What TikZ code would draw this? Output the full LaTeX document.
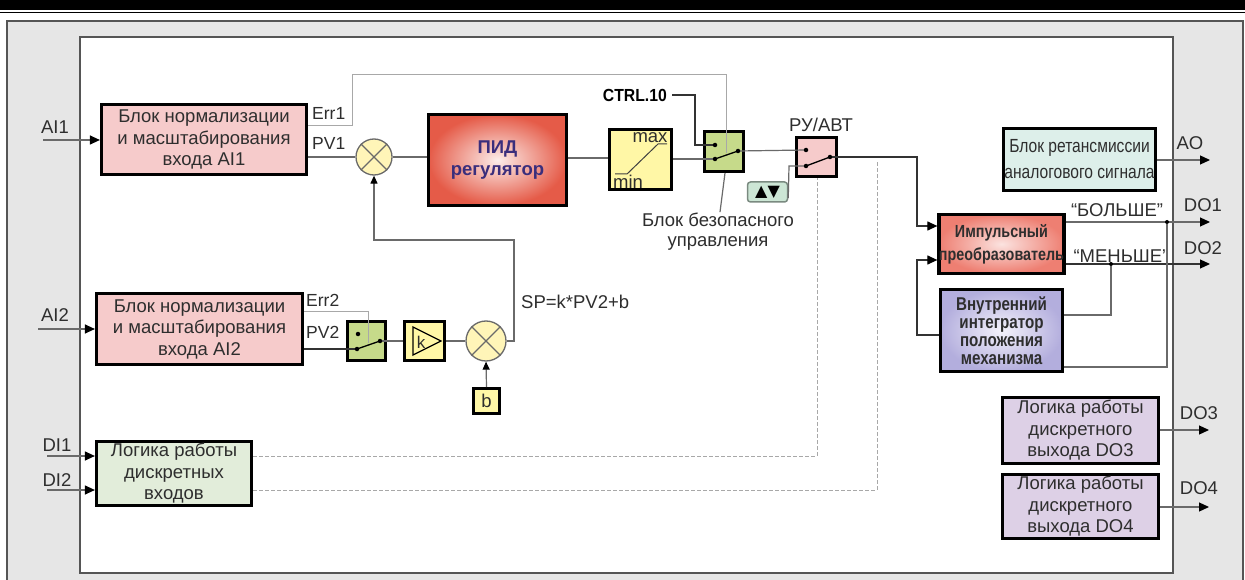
\documentclass[tikz,border=0pt]{standalone}
\usepackage{fontspec}
\setmainfont{Liberation Sans}
\newfontfamily\narrowf[FakeStretch=0.82]{Liberation Sans}
\newfontfamily\semif[FakeStretch=0.9]{Liberation Sans}
\newfontfamily\symf{DejaVu Sans}
\usetikzlibrary{arrows.meta,calc}
\definecolor{pinkb}{HTML}{F6CBCB}
\definecolor{greensw}{HTML}{C6DA8A}
\definecolor{yel}{HTML}{FFF7A6}
\definecolor{sumfill}{HTML}{FFF5B8}
\definecolor{cyanb}{HTML}{DDEFEA}
\definecolor{dig}{HTML}{E2EDDA}
\definecolor{lav}{HTML}{DDD0E6}
\definecolor{integout}{HTML}{B3AEDD}
\definecolor{integin}{HTML}{F4F2FB}
\definecolor{impout}{HTML}{EE7F72}
\definecolor{impin}{HTML}{FBE3E0}
\definecolor{pidout}{HTML}{E55B48}
\definecolor{pidin}{HTML}{FCEDEA}
\definecolor{btnfill}{HTML}{CCE6D5}
\definecolor{btnline}{HTML}{7A8A80}
\definecolor{pidtxt}{HTML}{3A2E7C}
\definecolor{txt}{HTML}{2E2E2E}
\definecolor{cgray}{HTML}{6A6A6A}
\definecolor{egray}{HTML}{A8A8A8}
\definecolor{panel}{HTML}{E6E6E6}
\definecolor{frame}{HTML}{555555}
\newcommand\mainfs{\fontsize{18.5}{21.5}\selectfont}
\newcommand\lblfs{\fontsize{18.5}{20}\selectfont}
\tikzset{
  blk/.style={draw=black, line width=3.2pt, inner sep=0pt, align=center, font=\mainfs, text=txt},
  smallblk/.style={draw=black, line width=3pt, inner sep=0pt},
  conn/.style={draw=cgray, line width=1.2pt},
  errl/.style={draw=egray, line width=1pt},
  arr/.style={-{Triangle[length=10pt,width=9pt,color=black]}},
  sarr/.style={-{Triangle[length=8pt,width=7pt,color=black]}},
  dsh/.style={draw=egray, line width=1pt, dash pattern=on 4pt off 2pt},
  dotc/.style={circle, fill=black, inner sep=0pt, minimum size=4.5pt},
  lbl/.style={font=\lblfs, text=txt, inner sep=0pt},
  sumc/.style={circle, draw=cgray, fill=sumfill, line width=1.3pt, minimum size=36pt, inner sep=0pt},
}
\begin{document}
\begin{tikzpicture}[x=1pt,y=-1pt]
\useasboundingbox (0,0) rectangle (1245,580);
% header rules
\fill[black] (0,0) rectangle (1245,10);
\draw[line width=1.3pt] (0,12.3) -- (1245,12.3);
% panels
\draw[fill=panel, draw=frame, line width=1.5pt] (7,21) rectangle (1243,586);
\draw[fill=white, draw=frame, line width=1.5pt] (80,37) rectangle (1173,573);

% ---------- blocks ----------
\node[blk, fill=pinkb, minimum width=205, minimum height=70] (ai1) at (204,139.5)
  {Блок нормализации\\и масштабирования\\входа AI1};
\node[blk, fill=pinkb, minimum width=206, minimum height=71] (ai2) at (199.5,329)
  {Блок нормализации\\и масштабирования\\входа AI2};
\node[blk, fill=dig, minimum width=155, minimum height=64] (di) at (174,473.5)
  {Логика работы\\дискретных\\входов};
\node[sumc] (sum1) at (374,157) {};
\draw[cgray, line width=1.3pt] (sum1.north east) -- (sum1.south west) (sum1.north west) -- (sum1.south east);
\node[blk, minimum width=138, minimum height=91, inner color=pidin, outer color=pidout,
      font=\fontsize{18.5}{22}\selectfont\bfseries, text=pidtxt] (pid) at (497.5,160)
  {ПИД\\регулятор};
\node[smallblk, fill=yel, minimum width=62, minimum height=60] (lim) at (640.5,159.5) {};
\node[lbl, font=\fontsize{18.5}{20}\selectfont] (limmax) at (650,138) {max};
\node[lbl, font=\fontsize{18.5}{20}\selectfont] (limmin) at (628,182) {min};
\draw[line width=1pt, draw=black!75] (615,174) -- (627,174) -- (658,144) -- (667,144);

\node[smallblk, fill=greensw, minimum width=39, minimum height=40] (sw1) at (724,151.5) {};
\node[smallblk, fill=pinkb, minimum width=40, minimum height=39] (sw2) at (816.5,157) {};
\node[draw=btnline, line width=1.5pt, rounded corners=3pt, fill=btnfill, minimum width=40, minimum height=20, inner sep=0pt,
      font=\symf\fontsize{16}{16}\selectfont] (btn) at (767.5,192) {▲▼};

\node[smallblk, fill=greensw, minimum width=38, minimum height=39] (sw3) at (366.5,341) {};
\node[smallblk, fill=yel, minimum width=40, minimum height=39] (kb) at (424.5,341) {};
\draw[line width=1.3pt] (413,327) -- (441,341) -- (413,355) -- cycle;
\node[lbl, font=\fontsize{17}{17}\selectfont] (ktxt) at (421,342) {k};
\node[sumc, minimum size=40pt] (sum2) at (486,341) {};
\draw[cgray, line width=1.3pt] (sum2.north east) -- (sum2.south west) (sum2.north west) -- (sum2.south east);
\node[smallblk, fill=yel, minimum width=26, minimum height=25, font=\fontsize{18.5}{20}\selectfont, text=txt] (bb) at (486.5,401) {b};

\node[blk, fill=cyanb, minimum width=152, minimum height=62, font=\narrowf\fontsize{19}{26}\selectfont] (ret) at (1079.5,159.5)
  {Блок ретансмиссии\\аналогового сигнала};
\node[blk, minimum width=122, minimum height=59, inner color=impin, outer color=impout,
      font=\narrowf\bfseries\fontsize{17.5}{23}\selectfont] (imp) at (1001.5,244)
  {Импульсный\\преобразователь};
\node[blk, minimum width=122, minimum height=82, inner color=integin, outer color=integout,
      font=\narrowf\bfseries\fontsize{18.5}{18}\selectfont] (integ) at (1001.5,330.5)
  {Внутренний\\интегратор\\положения\\механизма};
\node[blk, fill=lav, minimum width=156, minimum height=66] (do3) at (1080.5,430.5)
  {Логика работы\\дискретного\\выхода DO3};
\node[blk, fill=lav, minimum width=156, minimum height=64] (do4) at (1080.5,506.5)
  {Логика работы\\дискретного\\выхода DO4};

% ---------- labels ----------
\node[lbl] (lai1) at (55,127) {AI1};
\node[lbl] (lai2) at (55,315) {AI2};
\node[lbl] (ldi1) at (57,445) {DI1};
\node[lbl] (ldi2) at (57,480) {DI2};
\node[lbl, anchor=west, font=\fontsize{17.5}{18}\selectfont] (lerr1) at (312,113) {Err1};
\node[lbl, anchor=west, font=\fontsize{17.5}{18}\selectfont] (lpv1) at (312,143) {PV1};
\node[lbl, anchor=west, font=\fontsize{17.5}{18}\selectfont] (lerr2) at (306,300) {Err2};
\node[lbl, anchor=west, font=\fontsize{17.5}{18}\selectfont] (lpv2) at (306,332) {PV2};
\node[lbl, anchor=west] (lsp) at (521,302) {SP=k*PV2+b};
\node[lbl, anchor=east, font=\semif\bfseries\fontsize{17.5}{18}\selectfont, text=black] (lctrl) at (667,95) {CTRL.10};
\node[lbl] (lruavt) at (821,125) {РУ/АВТ};
\node[lbl, align=center, font=\fontsize{18.5}{20}\selectfont] (lsafe) at (718,232) {Блок безопасного\\управления};
\node[lbl] (lao) at (1190,143) {AO};
\node[lbl] (ldo1) at (1203,205) {DO1};
\node[lbl] (ldo2) at (1203,248) {DO2};
\node[lbl] (ldo3) at (1199,413) {DO3};
\node[lbl] (ldo4) at (1199,488) {DO4};
\node[lbl] (lbig) at (1117,210) {“БОЛЬШЕ”};
\node[lbl] (lsmall) at (1121,256) {“МЕНЬШЕ”};

% ---------- switch internals ----------
\coordinate (s1t) at (715,145); \coordinate (s1b) at (715,159); \coordinate (s1p) at (738,151);
\coordinate (s2t) at (806,150); \coordinate (s2b) at (806,166); \coordinate (s2p) at (830,157);
\coordinate (s3t) at (358,334); \coordinate (s3b) at (357,349); \coordinate (s3p) at (380,341);

% ---------- connectors ----------
\coordinate (ai1in) at (43,140);
\draw[conn, arr] (ai1in) -- (ai1.west |- ai1in);
\coordinate (ai2in) at (38,329);
\draw[conn, arr] (ai2in) -- (ai2.west |- ai2in);
\coordinate (di1in) at (47,456);
\draw[conn, arr] (di1in) -- (di.west |- di1in);
\coordinate (di2in) at (47,490);
\draw[conn, arr] (di2in) -- (di.west |- di2in);

% AI1 chain
\draw[errl] (ai1.east |- 0,126) -- (352,126) -- (352,75) -- (726,75) -- (726,153);
\draw[conn] (ai1.east |- 0,157) -- (sum1.west);
\draw[conn] (sum1.east) -- (pid.west |- sum1.east);
\draw[conn] (pid.east |- 0,158) -- (lim.west |- 0,158);
\draw[conn] (lim.east |- 0,159) -- (s1b);
\draw[conn, draw=black!80] (lctrl.east) ++(5,0) -- (695,95) -- (695,145) -- (s1t);
\draw[conn] (s1p) -- (s2t);
\draw[conn] (btn.east |- 0,198) -- (789,166) -- (s2b);
\draw[conn, draw=black!80, arr] (s2p) -- (917,157) -- (917,226) -- (imp.west |- 0,226);
\draw[conn] (lsafe.north) ++(2,-1) -- (725,173);

% AI2 chain
\draw[errl] (ai2.east |- 0,311) -- (368,311) -- (368,343);
\draw[conn, draw=black!80] (ai2.east |- 0,349) -- (s3b);
\draw[conn] (s3p) -- (kb.west |- s3p);
\draw[conn] (kb.east) -- (sum2.west);
\draw[conn, sarr] (bb.north) -- (sum2.south);
\draw[conn, sarr] (sum2.east) -- (514,341) -- (514,240) -- (374,240) -- (sum1.south);

% DI dashed
\draw[dsh] (di.east |- 0,456) -- (817,456) -- (sw2.south -| 817,0);
\draw[dsh] (di.east |- 0,490) -- (877,490) -- (877,160);

% switch contacts and levers
\draw[line width=1.3pt] (s1b) -- (s1p);
\draw[line width=1.3pt] (s2b) -- (s2p);
\draw[line width=1.3pt] (s3b) -- (s3p);
\foreach \c in {s1t,s1b,s1p,s2t,s2b,s2p,s3t,s3b,s3p} \node[dotc] at (\c) {};

% outputs
\coordinate (aoend) at (1210,160);
\draw[conn, arr] (ret.east |- aoend) -- (aoend);
\coordinate (do1end) at (1210,222);
\draw[conn, arr] (imp.east |- do1end) -- (do1end);
\coordinate (do2end) at (1210,264);
\draw[conn, draw=black!80, arr] (imp.east |- do2end) -- (do2end);
\node[dotc, minimum size=4pt] (j1) at (1167,222) {};
\node[dotc, minimum size=4pt] (j2) at (1111,264) {};
\draw[conn] (j1) -- (1167,367) -- (integ.east |- 0,367);
\draw[conn] (j2) -- (1111,315) -- (integ.east |- 0,315);
\draw[conn, draw=black!80, arr] (integ.west |- 0,335) -- (917,335) -- (917,260) -- (imp.west |- 0,260);
\coordinate (do3end) at (1209,430);
\draw[conn, arr] (do3.east |- do3end) -- (do3end);
\coordinate (do4end) at (1209,507);
\draw[conn, arr] (do4.east |- do4end) -- (do4end);
\end{tikzpicture}
\end{document}
